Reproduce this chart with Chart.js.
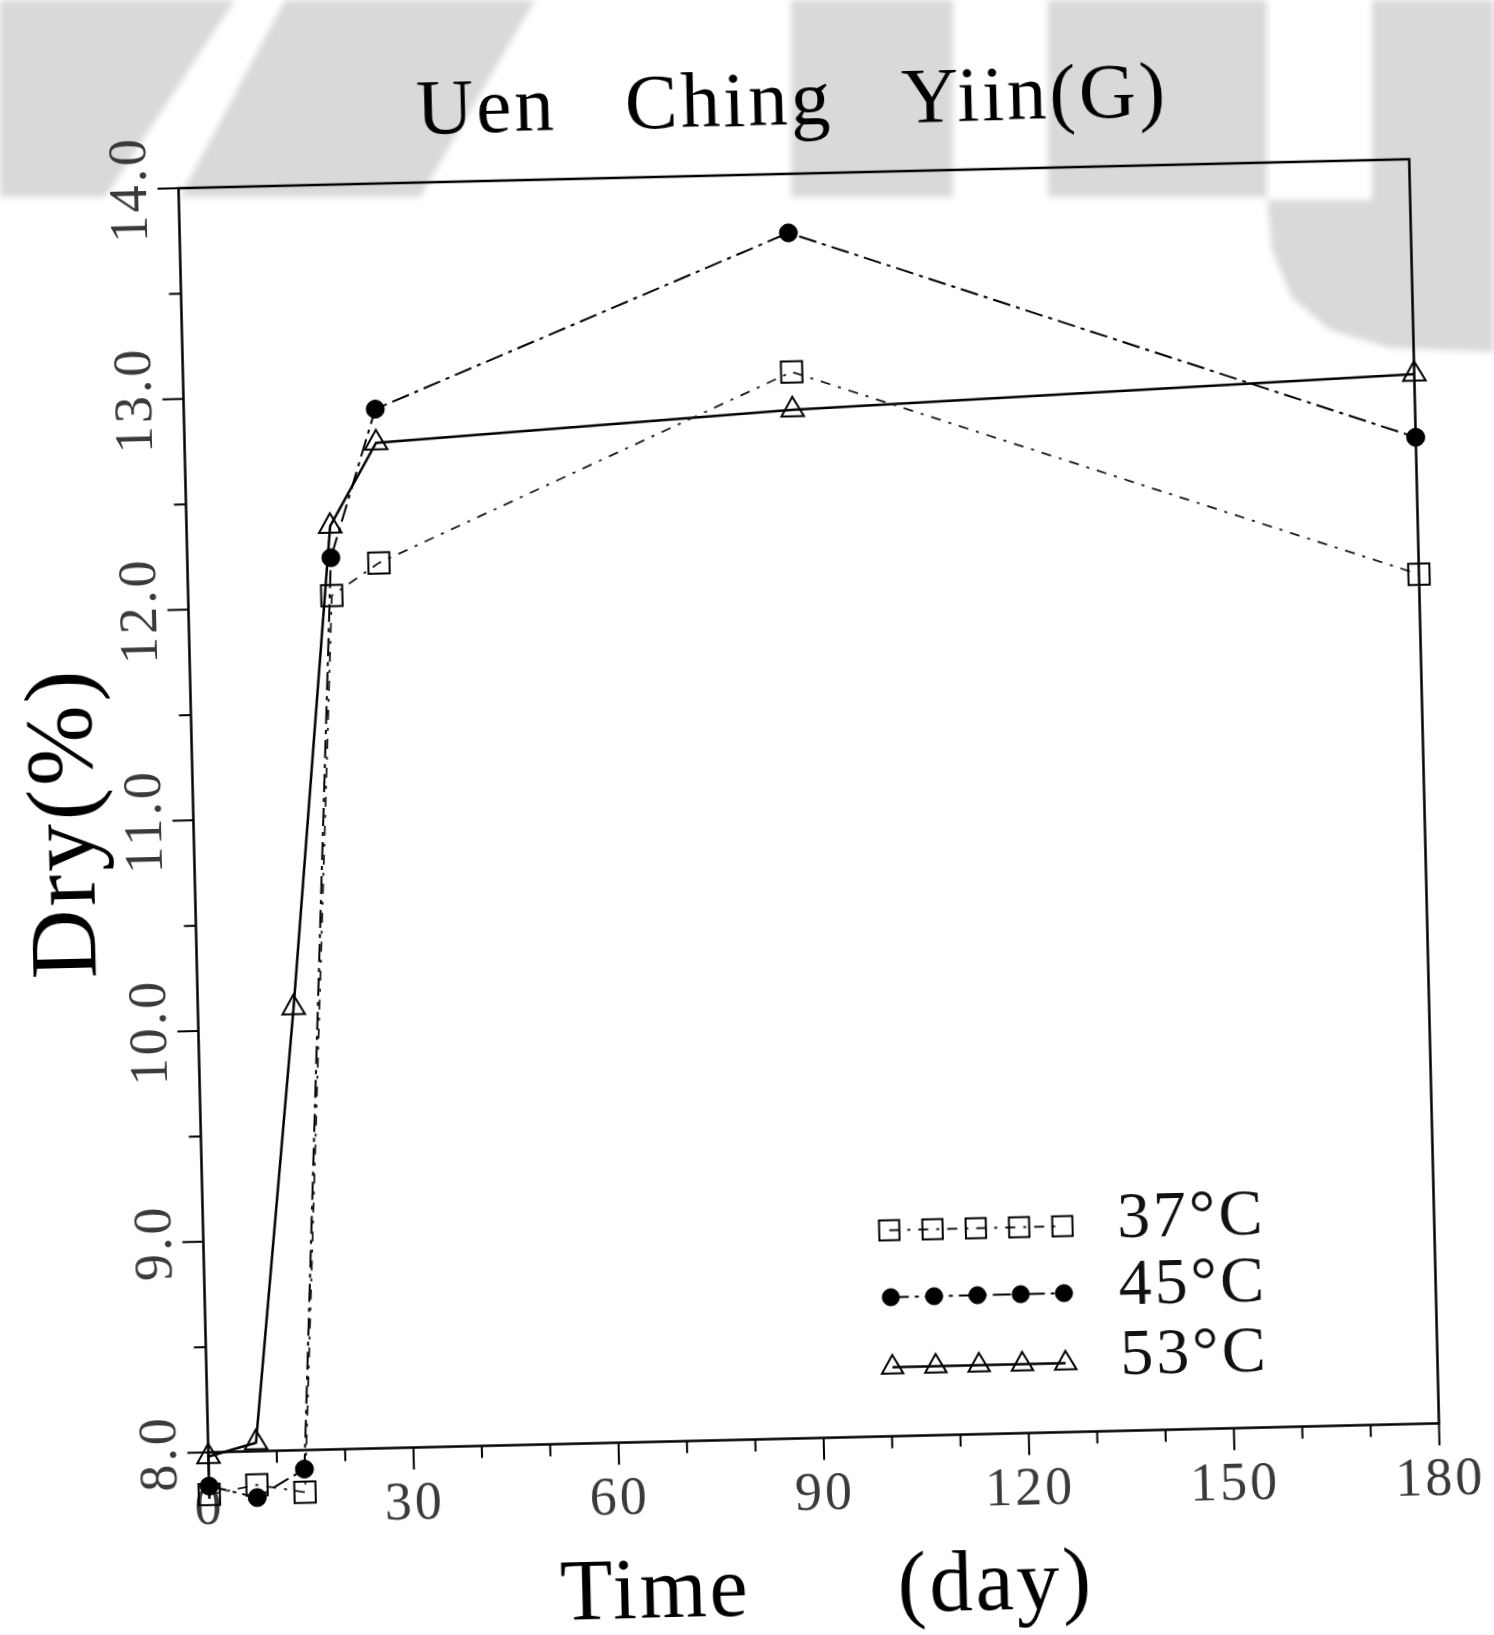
<!DOCTYPE html>
<html>
<head>
<meta charset="utf-8">
<title>Uen Ching Yiin(G)</title>
<script src="https://cdn.jsdelivr.net/npm/chart.js@4.4.0/dist/chart.umd.min.js"></script>
<style>
  html, body { margin: 0; padding: 0; background: #fff; }
  body { width: 1494px; height: 1635px; position: relative; overflow: hidden; }
  #mark { position: absolute; left: 0; top: 0; filter: blur(3px); }
  /* the scanned figure is slightly tilted */
  #wrap { position: absolute; left: 0; top: 0; width: 1494px; height: 1635px;
          transform: rotate(-1.35deg); transform-origin: 747px 817.5px; }
</style>
</head>
<body>
<svg id="mark" width="1494" height="1635">
  <g fill="#d9d9d9">
    <polygon points="0,0 235,0 105,197 0,197"/>
    <polygon points="285,0 535,0 420,197 180,197"/>
    <polygon points="791,0 953,0 953,197 791,197"/>
    <polygon points="1048,0 1267,0 1267,197 1048,197"/>
    <polygon points="1372,0 1494,0 1494,352 1390,348 1330,330 1292,298 1272,250 1267,200 1372,200"/>
  </g>
</svg>
<div id="wrap"><canvas id="myChart" width="1494" height="1635"></canvas></div>
<script>
const days = [0, 7, 14, 21, 28, 89, 180];
const dry37 = [7.80, 7.84, 7.80, 12.05, 12.20, 13.06, 12.03];
const dry45 = [7.84, 7.78, 7.91, 12.23, 12.93, 13.72, 12.68];
const dry53 = [7.98, 8.04, 10.10, 12.38, 12.77, 12.88, 12.98];
const seriesLabels = ["37°C", "45°C", "53°C"];
const xTicks = [0, 30, 60, 90, 120, 150, 180];
const yTicks = [8, 9, 10, 11, 12, 13, 14];

const serif = "'Liberation Serif', 'Times New Roman', serif";

function pairs(values) {
    return days.map((d, i) => ({ x: d, y: values[i] }));
}

// spaced-out lettering like the typewriter style of the scan
const spacing = {
    id: "spacing",
    beforeUpdate(chart) { chart.ctx.letterSpacing = "3px"; },
    beforeDraw(chart) { chart.ctx.letterSpacing = "3px"; }
};

// box frame plus outward major/minor tick marks
const frame = {
    id: "frame",
    beforeDatasetsDraw(chart) {
        const { ctx, chartArea: a, scales: { x, y } } = chart;
        ctx.save();
        ctx.strokeStyle = "#000";
        ctx.lineWidth = 2.5;
        ctx.strokeRect(a.left, a.top, a.right - a.left, a.bottom - a.top);
        ctx.beginPath();
        ctx.moveTo(a.left, a.bottom);
        ctx.lineTo(a.left, y.getPixelForValue(Math.min(...dry37, ...dry45)));
        ctx.stroke();
        ctx.lineWidth = 2;
        ctx.beginPath();
        x.ticks.forEach(t => {
            const px = x.getPixelForValue(t.value);
            const len = xTicks.includes(t.value) ? 22 : 12;
            ctx.moveTo(px, a.bottom);
            ctx.lineTo(px, a.bottom + len);
        });
        y.ticks.forEach(t => {
            const py = y.getPixelForValue(t.value);
            const len = yTicks.includes(t.value) ? 21 : 12;
            ctx.moveTo(a.left - len, py);
            ctx.lineTo(a.left, py);
        });
        ctx.stroke();
        ctx.restore();
    }
};

// the first readings sit below 8.0, outside the box; chart.js skips those markers
const outside = {
    id: "outside",
    afterDatasetsDraw(chart) {
        const a = chart.chartArea;
        const all = { left: -1e5, top: -1e5, right: 1e5, bottom: 1e5 };
        chart.data.datasets.forEach((ds, i) => {
            chart.getDatasetMeta(i).data.forEach(el => {
                const m = el.options.radius + el.options.borderWidth;
                if (el.y > a.bottom + m || el.y < a.top - m || el.x < a.left - m || el.x > a.right + m) {
                    el.draw(chart.ctx, all);
                }
            });
        });
    }
};

// legend rows of five markers inside the lower right of the plot
const rowLegend = {
    id: "rowLegend",
    afterDraw(chart) {
        const { ctx, chartArea: a } = chart;
        const rows = [a.bottom - 206, a.bottom - 139, a.bottom - 69];
        const x0 = a.left + 686;
        const gap = 43.3;
        chart.data.datasets.forEach((ds, i) => {
            const y0 = rows[i];
            ctx.save();
            ctx.strokeStyle = ds.borderColor;
            ctx.lineWidth = ds.borderWidth;
            ctx.setLineDash(ds.borderDash || []);
            ctx.beginPath();
            ctx.moveTo(x0, y0);
            ctx.lineTo(x0 + 4 * gap, y0);
            ctx.stroke();
            ctx.setLineDash([]);
            ctx.strokeStyle = ds.pointBorderColor;
            ctx.fillStyle = ds.pointBackgroundColor;
            ctx.lineWidth = ds.pointBorderWidth;
            for (let k = 0; k < 5; k++) {
                Chart.helpers.drawPoint(ctx, {
                    pointStyle: ds.pointStyle,
                    radius: ds.pointRadius * 0.95,
                    borderWidth: ds.pointBorderWidth,
                    rotation: 0
                }, x0 + k * gap, y0);
            }
            ctx.fillStyle = "#111";
            ctx.font = "66px " + serif;
            ctx.textBaseline = "alphabetic";
            ctx.fillText(ds.label, a.left + 914, y0 + 12);
            ctx.restore();
        });
    }
};

const data = {
    datasets: [
        {
            label: seriesLabels[0],
            data: pairs(dry37),
            borderColor: "#1a1a1a",
            borderWidth: 1.8,
            borderDash: [10, 8, 3, 8],
            pointStyle: "rect",
            pointRadius: 15,
            pointBorderWidth: 2,
            pointBorderColor: "#000",
            pointBackgroundColor: "rgba(255,255,255,0)",
            clip: false,
            tension: 0,
            fill: false
        },
        {
            label: seriesLabels[1],
            data: pairs(dry45),
            borderColor: "#000",
            borderWidth: 2,
            borderDash: [18, 6, 4, 6],
            pointStyle: "circle",
            pointRadius: 9,
            pointBorderWidth: 1,
            pointBorderColor: "#000",
            pointBackgroundColor: "#000",
            clip: false,
            tension: 0,
            fill: false
        },
        {
            label: seriesLabels[2],
            data: pairs(dry53),
            borderColor: "#000",
            borderWidth: 2.5,
            pointStyle: "triangle",
            pointRadius: 13,
            pointBorderWidth: 2,
            pointBorderColor: "#000",
            pointBackgroundColor: "rgba(255,255,255,0)",
            clip: false,
            tension: 0,
            fill: false
        }
    ]
};

const config = {
    type: "line",
    data: data,
    options: {
        responsive: false,
        animation: false,
        events: [],
        layout: { padding: { left: 0, right: 69.5, top: 0, bottom: 0 } },
        plugins: {
            legend: { display: false },
            tooltip: { enabled: false },
            title: {
                display: true,
                fullSize: false,
                text: "Uen   Ching   Yiin(G)",
                color: "#000",
                font: { family: serif, size: 79, weight: "normal" },
                padding: { top: 57.6, bottom: 22.6 }
            }
        },
        scales: {
            x: {
                type: "linear",
                min: 0,
                max: 180,
                grid: { display: false },
                border: { display: false },
                ticks: {
                    stepSize: 10,
                    autoSkip: false,
                    maxRotation: 0,
                    padding: 17,
                    color: "#3a3a3a",
                    font: { family: serif, size: 54 },
                    callback: v => xTicks.includes(v) ? String(v) : ""
                },
                title: {
                    display: true,
                    text: "Time      (day)",
                    color: "#000",
                    font: { family: serif, size: 86, lineHeight: 1 },
                    padding: { top: 0, bottom: 0 }
                },
                afterFit: s => { s.height = 195.5; }
            },
            y: {
                min: 8,
                max: 14,
                grid: { display: false },
                border: { display: false },
                ticks: {
                    stepSize: 0.5,
                    autoSkip: false,
                    minRotation: 90,
                    maxRotation: 90,
                    crossAlign: "center",
                    padding: -15,
                    color: "#3a3a3a",
                    font: { family: serif, size: 54 },
                    callback: v => yTicks.includes(v) ? v.toFixed(1) : ""
                },
                title: {
                    display: true,
                    text: "Dry(%)",
                    color: "#000",
                    font: { family: serif, size: 96 },
                    padding: { top: 10, bottom: 0 }
                },
                afterFit: s => { s.width = 193.5; }
            }
        }
    },
    plugins: [spacing, frame, outside, rowLegend]
};

new Chart(document.getElementById("myChart"), config);
</script>
</body>
</html>
